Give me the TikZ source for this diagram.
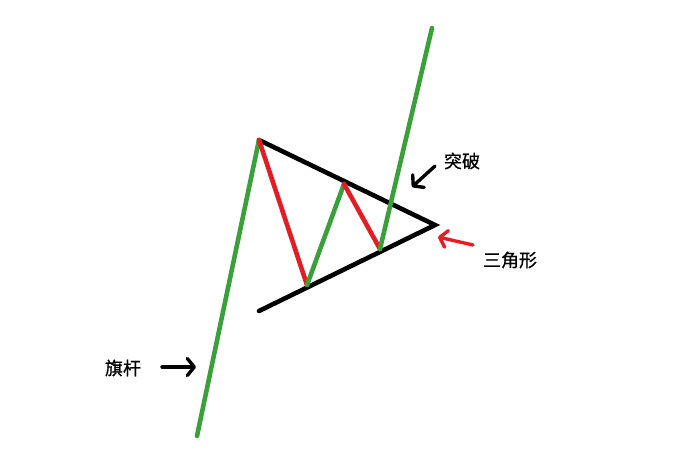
\documentclass[tikz,border=0pt]{standalone}
\usepackage{fontspec}
\newfontfamily\cjk[FakeBold=0.8]{Noto Sans CJK SC}
\usetikzlibrary{arrows.meta}
\definecolor{pgreen}{RGB}{58,160,58}
\definecolor{pred}{RGB}{226,30,36}
\tikzset{
  gline/.style={pgreen,line width=4.6pt,line cap=round},
  rline/.style={pred,line width=4.6pt,line cap=round},
  bline/.style={black,line width=4.6pt,line cap=round},
  lbl/.style={font=\cjk\fontsize{18}{20}\selectfont,inner sep=0pt},
  parrow/.style={line width=3.4pt,line cap=round,-{Straight Barb[length=7pt,width=17pt,line cap=round,line join=round]}}
}
\begin{document}
\begin{tikzpicture}[x=1pt,y=-1pt]
\useasboundingbox (0,0) rectangle (679,469);
\coordinate (p0) at (197,436);
\coordinate (a) at (259,140);
\coordinate (b) at (307,285);
\coordinate (c) at (344,184);
\coordinate (d) at (380,249);
\coordinate (e) at (432,28);
\coordinate (apex) at (435,225);
\coordinate (low) at (259,311);
\draw[bline] (a) -- (apex) -- (low);
\draw[gline] (p0) -- (a);
\draw[rline] (a) -- (b);
\draw[gline] (b) -- (c);
\draw[rline] (c) -- (d);
\draw[gline] (d) -- (e);
\node[lbl] (tp) at (462,161) {突破};
\node[lbl] (tri) at (510,260) {三角形};
\node[lbl] (flag) at (123,368) {旗杆};
\coordinate (tps) at (435,166);
\coordinate (tpe) at (412,187);
\coordinate (trs) at (473,245);
\coordinate (tre) at (438,237);
\coordinate (fs) at (162,367);
\coordinate (fe) at (196,367);
\draw[parrow] (tps) -- (tpe);
\draw[parrow,pred] (trs) -- (tre);
\draw[parrow] (fs) -- (fe);
\end{tikzpicture}
\end{document}
